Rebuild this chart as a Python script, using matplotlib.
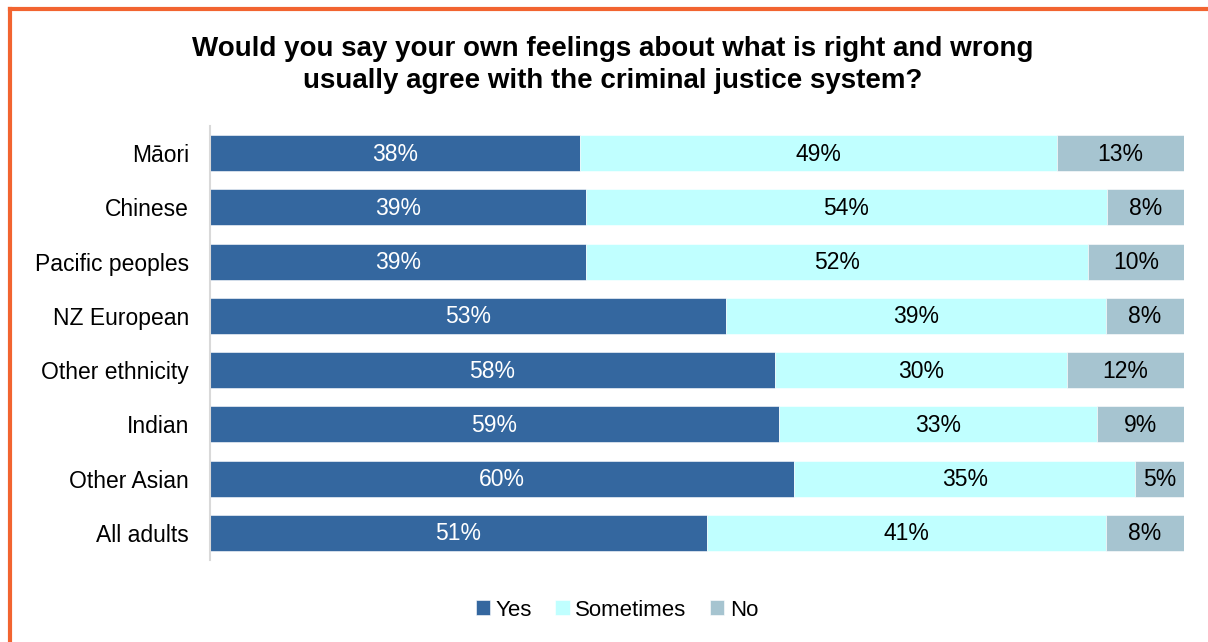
import matplotlib
matplotlib.use("Agg")
import matplotlib.pyplot as plt
from matplotlib.lines import Line2D
import numpy as np

plt.rcParams['font.family'] = ['Liberation Sans', 'DejaVu Sans']

categories = ["Māori", "Chinese", "Pacific peoples", "NZ European",
              "Other ethnicity", "Indian", "Other Asian", "All adults"]
yes = [38, 39, 39, 53, 58, 59, 60, 51]
sometimes = [49, 54, 52, 39, 30, 33, 35, 41]
no = [13, 8, 10, 8, 12, 9, 5, 8]
series_names = ["Yes", "Sometimes", "No"]
colors = ["#34679f", "#c0ffff", "#a6c4d0"]
text_colors = ["white", "black", "black"]
title = "Would you say your own feelings about what is right and wrong\nusually agree with the criminal justice system?"

fig = plt.figure(figsize=(12.08, 6.42), dpi=100)
ax = fig.add_axes([210/1208, 1-560/642, (1184-210)/1208, (560-126)/642])

data = np.array([yes, sometimes, no], dtype=float)
totals = data.sum(axis=0)
shares = data / totals * 100
y = np.arange(len(categories))
left = np.zeros(len(categories))
for i, name in enumerate(series_names):
    bars = ax.barh(y, shares[i], left=left, height=0.66, color=colors[i],
                   label=name, edgecolor='white', linewidth=0.4)
    for j, b in enumerate(bars):
        ax.text(left[j] + shares[i][j] / 2, y[j] + 0.02, f"{int(data[i][j])}%",
                ha='center', va='center', fontsize=16.5, color=text_colors[i])
    left += shares[i]

ax.set_xlim(0, 100)
ax.set_ylim(len(categories) - 0.5, -0.5)
ax.set_yticks(y)
ax.set_yticklabels(categories, fontsize=16.5)
ax.tick_params(axis='y', length=0, pad=15)
ax.set_xticks([])
for s in ['top', 'right', 'bottom']:
    ax.spines[s].set_visible(False)
ax.spines['left'].set_color('#d9d9d9')
ax.spines['left'].set_linewidth(1.5)

fig.text(613/1208, 1-65/642, title, ha='center', va='center', fontsize=20,
         fontweight='bold', linespacing=1.35)

leg = fig.legend(loc='center', bbox_to_anchor=(617/1208, 1-610/642), ncol=3,
                 frameon=False, fontsize=16, handlelength=0.65, handleheight=0.65,
                 handletextpad=0.25, columnspacing=1.05)

# orange frame (top and left edges)
fig.add_artist(Line2D([10/1208, 1], [1-9/642, 1-9/642], color='#f26430', lw=3,
                      transform=fig.transFigure))
fig.add_artist(Line2D([10/1208, 10/1208], [0, 1-9/642], color='#f26430', lw=3,
                      transform=fig.transFigure))

fig.savefig("out.png", dpi=100)
